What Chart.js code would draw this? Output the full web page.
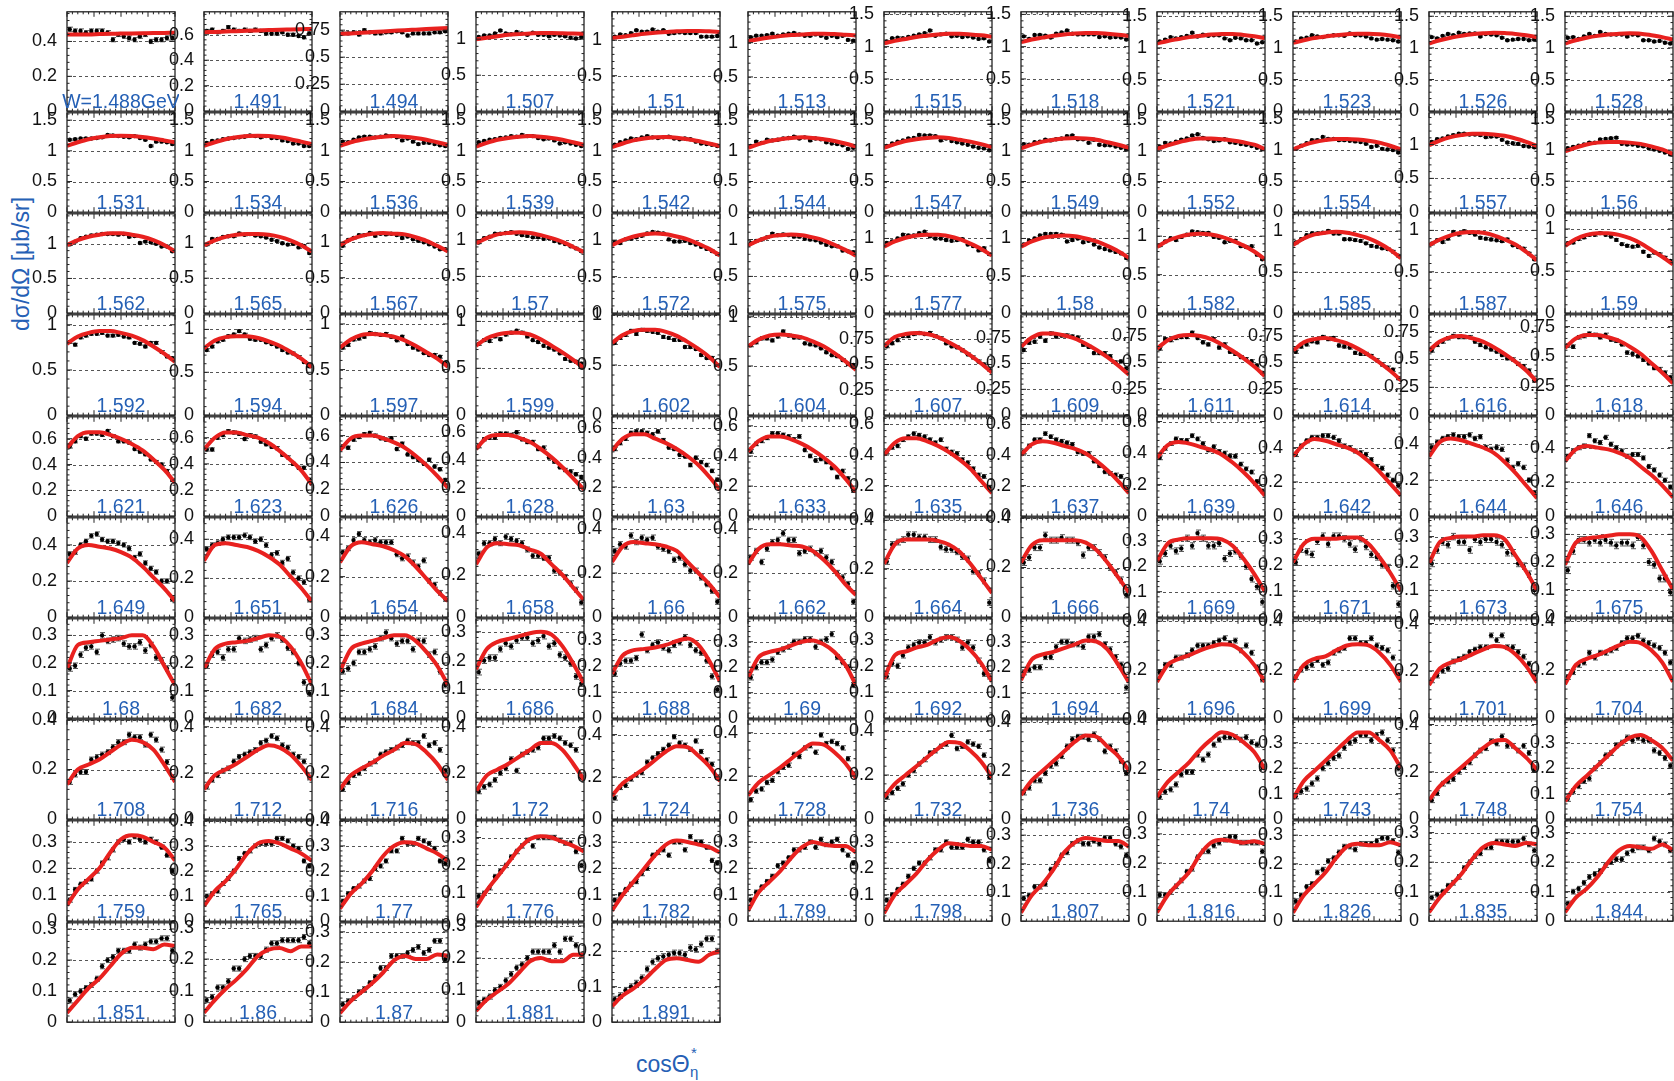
<!DOCTYPE html>
<html>
<head>
<meta charset="utf-8">
<script src="https://cdn.jsdelivr.net/npm/chart.js@4.4.1/dist/chart.umd.min.js"></script>
<style>
  body { margin: 0; background: #fff; width: 1674px; height: 1081px; overflow: hidden; position: relative;
         font-family: 'Liberation Sans', Arial, sans-serif; }
  canvas { position: absolute; }
  .ytitle { position: absolute; left: 21px; top: 264px; transform: translate(-50%, -50%) rotate(-90deg);
            color: #2560b5; font-size: 23px; white-space: nowrap; }
  .xtitle { position: absolute; left: 636px; top: 1051px; color: #2560b5; font-size: 23px; white-space: nowrap; }
  .xtitle .sup { position: absolute; left: 55px; top: -7px; font-size: 15px; }
  .xtitle .sub { position: absolute; left: 54px; top: 12px; font-size: 15px; }
</style>
</head>
<body>
<div class="ytitle">dσ/dΩ [μb/sr]</div>
<div class="xtitle">cosΘ<span class="sup">*</span><span class="sub">η</span></div>
<script>
// bin centres of the measured points and the cos values of the model curve
const cosBins = [-0.95, -0.85, -0.75, -0.65, -0.55, -0.45, -0.35, -0.25, -0.15, -0.05,
                 0.05, 0.15, 0.25, 0.35, 0.45, 0.55, 0.65, 0.75, 0.85, 0.95];
const curveCos = [-1, -0.8, -0.6, -0.4, -0.2, 0, 0.2, 0.4, 0.6, 0.8, 1];

const wLabels = [
  'W=1.488GeV', '1.491', '1.494', '1.507', '1.51', '1.513', '1.515', '1.518', '1.521', '1.523', '1.526', '1.528',
  '1.531', '1.534', '1.536', '1.539', '1.542', '1.544', '1.547', '1.549', '1.552', '1.554', '1.557', '1.56',
  '1.562', '1.565', '1.567', '1.57', '1.572', '1.575', '1.577', '1.58', '1.582', '1.585', '1.587', '1.59',
  '1.592', '1.594', '1.597', '1.599', '1.602', '1.604', '1.607', '1.609', '1.611', '1.614', '1.616', '1.618',
  '1.621', '1.623', '1.626', '1.628', '1.63', '1.633', '1.635', '1.637', '1.639', '1.642', '1.644', '1.646',
  '1.649', '1.651', '1.654', '1.658', '1.66', '1.662', '1.664', '1.666', '1.669', '1.671', '1.673', '1.675',
  '1.68', '1.682', '1.684', '1.686', '1.688', '1.69', '1.692', '1.694', '1.696', '1.699', '1.701', '1.704',
  '1.708', '1.712', '1.716', '1.72', '1.724', '1.728', '1.732', '1.736', '1.74', '1.743', '1.748', '1.754',
  '1.759', '1.765', '1.77', '1.776', '1.782', '1.789', '1.798', '1.807', '1.816', '1.826', '1.835', '1.844',
  '1.851', '1.86', '1.87', '1.881', '1.891'
];

const yMax = [
  0.57, 0.78, 0.92, 1.38, 1.40, 1.45, 1.54, 1.54, 1.57, 1.57, 1.57, 1.57,
  1.62, 1.62, 1.62, 1.62, 1.62, 1.62, 1.62, 1.62, 1.62, 1.60, 1.47, 1.60,
  1.43, 1.42, 1.40, 1.35, 1.36, 1.35, 1.33, 1.33, 1.29, 1.21, 1.20, 1.18,
  1.11, 1.17, 1.10, 1.07, 1.00, 1.02, 0.99, 0.97, 0.95, 0.95, 0.90, 0.85,
  0.77, 0.76, 0.74, 0.71, 0.68, 0.66, 0.65, 0.65, 0.63, 0.58, 0.55, 0.58,
  0.55, 0.51, 0.49, 0.47, 0.45, 0.45, 0.41, 0.40, 0.39, 0.38, 0.37, 0.36,
  0.36, 0.36, 0.36, 0.345, 0.38, 0.39, 0.38, 0.39, 0.41, 0.41, 0.42, 0.41,
  0.40, 0.43, 0.43, 0.43, 0.47, 0.46, 0.45, 0.41, 0.40, 0.39, 0.42, 0.39,
  0.38, 0.40, 0.40, 0.36, 0.38, 0.38, 0.38, 0.35, 0.345, 0.35, 0.34, 0.34,
  0.32, 0.315, 0.33, 0.31, 0.28
];

const yStep = [
  0.2, 0.2, 0.25, 0.5, 0.5, 0.5, 0.5, 0.5, 0.5, 0.5, 0.5, 0.5,
  0.5, 0.5, 0.5, 0.5, 0.5, 0.5, 0.5, 0.5, 0.5, 0.5, 0.5, 0.5,
  0.5, 0.5, 0.5, 0.5, 0.5, 0.5, 0.5, 0.5, 0.5, 0.5, 0.5, 0.5,
  0.5, 0.5, 0.5, 0.5, 0.5, 0.5, 0.25, 0.25, 0.25, 0.25, 0.25, 0.25,
  0.2, 0.2, 0.2, 0.2, 0.2, 0.2, 0.2, 0.2, 0.2, 0.2, 0.2, 0.2,
  0.2, 0.2, 0.2, 0.2, 0.2, 0.2, 0.2, 0.2, 0.1, 0.1, 0.1, 0.1,
  0.1, 0.1, 0.1, 0.1, 0.1, 0.1, 0.1, 0.1, 0.2, 0.2, 0.2, 0.2,
  0.2, 0.2, 0.2, 0.2, 0.2, 0.2, 0.2, 0.2, 0.2, 0.1, 0.2, 0.1,
  0.1, 0.1, 0.1, 0.1, 0.1, 0.1, 0.1, 0.1, 0.1, 0.1, 0.1, 0.1,
  0.1, 0.1, 0.1, 0.1, 0.1
];

// typical statistical error per row of panels
const rowErr = [0.012, 0.015, 0.015, 0.015, 0.012, 0.012, 0.01, 0.01, 0.008, 0.008];

const points = [
  [0.47,0.46,0.46,0.45,0.46,0.46,0.46,0.45,0.41,0.44,0.43,0.42,0.41,0.43,0.44,0.40,0.41,0.41,0.42,0.42],
  [0.63,0.64,0.62,0.63,0.66,0.64,0.63,0.64,0.63,0.64,0.63,0.61,0.61,0.61,0.62,0.60,0.60,0.59,0.58,0.61],
  [0.72,0.72,0.73,0.71,0.75,0.73,0.72,0.72,0.73,0.73,0.74,0.73,0.70,0.72,0.72,0.72,0.72,0.73,0.73,0.74],
  [1.03,1.05,1.05,1.08,1.12,1.08,1.07,1.10,1.08,1.06,1.09,1.06,1.06,1.04,1.06,1.05,1.04,1.02,1.01,1.03],
  [1.05,1.08,1.07,1.10,1.14,1.12,1.12,1.15,1.12,1.14,1.09,1.10,1.11,1.10,1.10,1.10,1.05,1.05,1.05,1.06],
  [1.08,1.10,1.10,1.11,1.13,1.10,1.12,1.13,1.14,1.12,1.10,1.10,1.12,1.10,1.07,1.10,1.08,1.10,1.04,1.03],
  [1.08,1.13,1.14,1.13,1.15,1.17,1.19,1.21,1.25,1.17,1.19,1.20,1.16,1.17,1.15,1.16,1.14,1.12,1.13,1.08],
  [1.16,1.12,1.18,1.18,1.17,1.14,1.20,1.22,1.25,1.20,1.19,1.19,1.19,1.19,1.15,1.16,1.14,1.15,1.14,1.11],
  [1.10,1.13,1.17,1.15,1.17,1.19,1.24,1.18,1.21,1.19,1.20,1.20,1.15,1.12,1.16,1.15,1.12,1.12,1.07,1.09],
  [1.10,1.15,1.16,1.20,1.18,1.17,1.19,1.20,1.20,1.19,1.23,1.20,1.20,1.18,1.15,1.13,1.14,1.13,1.12,1.10],
  [1.17,1.15,1.19,1.22,1.20,1.24,1.22,1.23,1.23,1.18,1.22,1.21,1.20,1.16,1.12,1.13,1.14,1.14,1.12,1.13],
  [1.16,1.17,1.14,1.18,1.22,1.19,1.25,1.22,1.21,1.21,1.21,1.18,1.21,1.20,1.12,1.12,1.10,1.11,1.08,1.07],

  [1.18,1.19,1.20,1.20,1.20,1.21,1.22,1.26,1.25,1.24,1.23,1.22,1.24,1.21,1.18,1.08,1.15,1.15,1.14,1.11],
  [1.13,1.16,1.17,1.19,1.20,1.21,1.22,1.23,1.25,1.24,1.22,1.24,1.21,1.21,1.17,1.16,1.12,1.12,1.08,1.08],
  [1.15,1.14,1.18,1.22,1.23,1.23,1.22,1.23,1.25,1.24,1.22,1.17,1.20,1.15,1.11,1.13,1.13,1.11,1.09,1.08],
  [1.14,1.16,1.18,1.19,1.21,1.22,1.24,1.23,1.26,1.24,1.24,1.21,1.19,1.20,1.17,1.12,1.14,1.12,1.10,1.08],
  [1.10,1.14,1.17,1.20,1.19,1.22,1.24,1.22,1.21,1.22,1.23,1.20,1.19,1.20,1.19,1.15,1.12,1.11,1.10,1.08],
  [1.08,1.15,1.13,1.18,1.17,1.18,1.20,1.21,1.23,1.20,1.22,1.17,1.20,1.19,1.14,1.12,1.11,1.09,1.03,1.05],
  [1.08,1.12,1.15,1.17,1.20,1.21,1.26,1.25,1.25,1.24,1.17,1.20,1.16,1.14,1.12,1.10,1.07,1.05,1.04,1.01],
  [1.11,1.10,1.14,1.15,1.18,1.17,1.19,1.20,1.24,1.25,1.19,1.19,1.13,1.18,1.10,1.09,1.09,1.07,1.05,1.02],
  [1.07,1.13,1.12,1.15,1.18,1.20,1.25,1.27,1.21,1.19,1.16,1.17,1.19,1.14,1.13,1.11,1.10,1.08,1.05,1.03],
  [1.02,1.07,1.11,1.16,1.16,1.21,1.18,1.18,1.16,1.16,1.15,1.14,1.13,1.10,1.05,1.07,1.02,1.01,1.00,0.96],
  [1.04,1.08,1.09,1.12,1.14,1.16,1.16,1.15,1.15,1.14,1.11,1.12,1.12,1.07,1.03,1.02,1.01,0.98,0.97,0.96],
  [1.03,1.05,1.07,1.09,1.12,1.12,1.17,1.18,1.19,1.20,1.10,1.09,1.09,1.07,1.06,1.03,1.01,0.99,0.96,0.93],

  [0.99,1.03,1.08,1.10,1.12,1.13,1.14,1.14,1.14,1.13,1.14,1.10,1.11,1.01,1.03,1.02,1.00,0.96,0.96,0.89],
  [0.98,1.06,1.06,1.09,1.10,1.10,1.14,1.12,1.13,1.11,1.10,1.08,1.05,1.03,1.00,0.98,0.99,0.94,0.96,0.86],
  [0.95,1.03,1.06,1.10,1.10,1.13,1.09,1.12,1.11,1.12,1.10,1.06,1.08,1.04,1.02,1.00,0.97,0.94,0.90,0.90],
  [0.96,1.02,1.04,1.08,1.08,1.09,1.10,1.08,1.06,1.05,1.03,1.03,1.01,1.02,0.98,0.96,0.94,0.91,0.88,0.84],
  [0.97,0.96,1.01,1.02,1.04,1.06,1.09,1.11,1.10,1.09,1.01,0.98,0.98,0.99,0.96,0.94,0.91,0.88,0.85,0.81],
  [0.95,0.98,1.00,1.03,1.08,1.06,1.07,1.06,1.04,1.04,1.01,1.00,0.99,0.96,0.93,0.91,0.91,0.85,0.84,0.83],
  [0.94,0.96,1.00,1.05,1.04,1.04,1.07,1.09,1.03,1.00,1.00,0.98,0.97,0.98,0.99,0.92,0.90,0.84,0.87,0.79],
  [0.92,0.97,1.00,1.04,1.06,1.06,1.06,1.05,0.96,0.98,1.00,0.95,0.97,0.92,0.88,0.86,0.84,0.82,0.80,0.74],
  [0.88,0.93,0.97,0.95,0.99,1.02,1.06,1.05,1.04,1.04,0.99,0.98,0.92,0.94,0.94,0.87,0.86,0.87,0.76,0.70],
  [0.86,0.90,0.95,0.97,0.97,0.98,1.00,0.97,0.97,0.90,0.90,0.89,0.88,0.85,0.82,0.81,0.79,0.78,0.75,0.70],
  [0.84,0.88,0.86,0.90,0.98,0.95,0.99,0.97,0.95,0.91,0.90,0.89,0.88,0.87,0.89,0.82,0.80,0.78,0.72,0.65],
  [0.83,0.84,0.88,0.90,0.93,0.93,0.95,0.93,0.91,0.87,0.82,0.80,0.79,0.80,0.73,0.68,0.72,0.70,0.66,0.62],

  [0.81,0.78,0.86,0.88,0.90,0.90,0.91,0.88,0.88,0.89,0.87,0.86,0.80,0.79,0.76,0.80,0.80,0.70,0.65,0.63],
  [0.76,0.80,0.86,0.88,0.92,0.94,0.98,0.94,0.89,0.88,0.88,0.85,0.83,0.80,0.76,0.73,0.72,0.68,0.62,0.57],
  [0.74,0.77,0.83,0.84,0.86,0.90,0.89,0.88,0.89,0.86,0.82,0.86,0.78,0.74,0.72,0.68,0.66,0.66,0.64,0.57],
  [0.76,0.80,0.79,0.84,0.81,0.86,0.88,0.90,0.88,0.84,0.80,0.78,0.74,0.72,0.70,0.66,0.60,0.58,0.57,0.55],
  [0.72,0.77,0.80,0.84,0.81,0.85,0.84,0.83,0.82,0.78,0.77,0.75,0.75,0.68,0.68,0.66,0.60,0.57,0.57,0.50],
  [0.71,0.74,0.78,0.78,0.76,0.80,0.85,0.81,0.79,0.79,0.73,0.72,0.71,0.68,0.64,0.61,0.60,0.56,0.52,0.51],
  [0.68,0.71,0.74,0.78,0.78,0.80,0.81,0.80,0.81,0.78,0.76,0.71,0.68,0.67,0.64,0.60,0.57,0.53,0.50,0.45],
  [0.63,0.70,0.71,0.76,0.72,0.79,0.76,0.77,0.77,0.76,0.75,0.68,0.66,0.60,0.60,0.60,0.57,0.51,0.52,0.45],
  [0.63,0.72,0.71,0.73,0.74,0.74,0.78,0.73,0.69,0.67,0.72,0.64,0.67,0.60,0.58,0.55,0.53,0.51,0.47,0.40],
  [0.60,0.65,0.67,0.70,0.69,0.74,0.72,0.73,0.66,0.65,0.64,0.59,0.58,0.58,0.56,0.52,0.48,0.45,0.43,0.35],
  [0.58,0.63,0.66,0.69,0.71,0.70,0.70,0.70,0.66,0.63,0.61,0.59,0.57,0.54,0.51,0.50,0.46,0.44,0.40,0.31],
  [0.59,0.58,0.66,0.67,0.69,0.68,0.66,0.68,0.64,0.63,0.60,0.53,0.52,0.50,0.47,0.44,0.40,0.39,0.36,0.32],

  [0.54,0.58,0.62,0.60,0.64,0.64,0.63,0.66,0.62,0.58,0.58,0.57,0.52,0.50,0.48,0.44,0.42,0.40,0.35,0.28],
  [0.51,0.51,0.60,0.62,0.65,0.64,0.63,0.59,0.62,0.61,0.57,0.55,0.53,0.52,0.47,0.45,0.40,0.37,0.37,0.28],
  [0.52,0.51,0.57,0.59,0.61,0.62,0.60,0.58,0.57,0.58,0.50,0.54,0.46,0.44,0.42,0.39,0.42,0.37,0.35,0.27],
  [0.50,0.55,0.56,0.56,0.59,0.59,0.58,0.60,0.55,0.53,0.53,0.48,0.49,0.42,0.39,0.35,0.33,0.32,0.30,0.28],
  [0.46,0.50,0.53,0.57,0.58,0.58,0.57,0.56,0.58,0.52,0.47,0.46,0.42,0.41,0.35,0.40,0.37,0.35,0.31,0.25],
  [0.43,0.48,0.50,0.52,0.55,0.55,0.54,0.53,0.51,0.53,0.44,0.40,0.37,0.38,0.36,0.32,0.26,0.30,0.25,0.17],
  [0.42,0.45,0.46,0.50,0.52,0.54,0.53,0.52,0.50,0.48,0.50,0.44,0.42,0.41,0.37,0.35,0.31,0.27,0.26,0.19],
  [0.42,0.46,0.50,0.50,0.54,0.52,0.50,0.49,0.48,0.47,0.42,0.41,0.41,0.36,0.33,0.29,0.28,0.27,0.26,0.18],
  [0.37,0.43,0.46,0.49,0.48,0.48,0.51,0.49,0.46,0.42,0.44,0.41,0.40,0.38,0.38,0.33,0.30,0.28,0.22,0.16],
  [0.36,0.41,0.44,0.46,0.46,0.47,0.47,0.46,0.44,0.41,0.40,0.38,0.37,0.36,0.33,0.29,0.28,0.24,0.21,0.18],
  [0.38,0.41,0.43,0.44,0.45,0.44,0.44,0.45,0.43,0.44,0.38,0.37,0.38,0.37,0.31,0.27,0.29,0.27,0.20,0.13],
  [0.35,0.38,0.40,0.41,0.47,0.44,0.43,0.46,0.42,0.40,0.38,0.35,0.36,0.36,0.34,0.29,0.27,0.24,0.21,0.17],

  [0.35,0.36,0.40,0.42,0.45,0.46,0.43,0.42,0.42,0.41,0.40,0.38,0.33,0.35,0.30,0.27,0.25,0.20,0.20,0.10],
  [0.35,0.37,0.38,0.40,0.41,0.41,0.41,0.42,0.41,0.39,0.40,0.37,0.32,0.33,0.28,0.30,0.23,0.20,0.18,0.09],
  [0.32,0.34,0.38,0.41,0.38,0.37,0.38,0.37,0.37,0.37,0.31,0.29,0.30,0.27,0.25,0.28,0.18,0.16,0.12,0.09],
  [0.30,0.35,0.35,0.37,0.35,0.38,0.37,0.36,0.35,0.32,0.29,0.29,0.28,0.28,0.22,0.21,0.19,0.16,0.13,0.07],
  [0.30,0.33,0.32,0.37,0.34,0.36,0.35,0.36,0.32,0.31,0.30,0.26,0.27,0.24,0.21,0.21,0.18,0.15,0.12,0.07],
  [0.27,0.30,0.25,0.31,0.34,0.35,0.38,0.35,0.35,0.29,0.30,0.31,0.29,0.30,0.27,0.25,0.20,0.18,0.15,0.07],
  [0.23,0.30,0.31,0.32,0.34,0.34,0.33,0.33,0.32,0.32,0.29,0.28,0.28,0.27,0.25,0.24,0.19,0.18,0.15,0.06],
  [0.22,0.24,0.28,0.28,0.33,0.31,0.31,0.32,0.31,0.31,0.30,0.25,0.28,0.28,0.26,0.24,0.20,0.18,0.15,0.09],
  [0.22,0.25,0.28,0.26,0.27,0.31,0.28,0.33,0.31,0.28,0.28,0.29,0.23,0.25,0.26,0.24,0.20,0.15,0.12,0.06],
  [0.21,0.26,0.25,0.24,0.29,0.31,0.28,0.31,0.31,0.30,0.28,0.26,0.30,0.27,0.24,0.23,0.20,0.19,0.12,0.05],
  [0.20,0.25,0.28,0.27,0.30,0.28,0.28,0.25,0.29,0.28,0.29,0.29,0.28,0.27,0.24,0.24,0.20,0.19,0.16,0.10],
  [0.17,0.24,0.28,0.28,0.27,0.28,0.27,0.28,0.27,0.26,0.27,0.27,0.26,0.29,0.26,0.20,0.19,0.14,0.14,0.09],

  [0.18,0.19,0.23,0.255,0.26,0.24,0.30,0.28,0.285,0.29,0.27,0.26,0.26,0.275,0.245,0.265,0.22,0.21,0.18,0.075],
  [0.19,0.23,0.24,0.22,0.25,0.25,0.29,0.28,0.285,0.29,0.25,0.265,0.29,0.30,0.285,0.255,0.24,0.20,0.13,0.09],
  [0.17,0.18,0.20,0.24,0.24,0.25,0.26,0.29,0.31,0.29,0.27,0.28,0.28,0.25,0.28,0.28,0.23,0.24,0.17,0.12],
  [0.16,0.20,0.21,0.21,0.24,0.26,0.25,0.27,0.28,0.28,0.26,0.27,0.285,0.25,0.26,0.22,0.21,0.19,0.145,0.12],
  [0.17,0.21,0.22,0.22,0.23,0.32,0.26,0.28,0.29,0.27,0.26,0.28,0.29,0.31,0.28,0.26,0.25,0.22,0.16,0.11],
  [0.16,0.20,0.22,0.22,0.23,0.26,0.27,0.28,0.30,0.30,0.31,0.31,0.28,0.30,0.31,0.33,0.24,0.22,0.20,0.13],
  [0.16,0.21,0.20,0.24,0.27,0.28,0.29,0.29,0.31,0.29,0.30,0.31,0.31,0.30,0.27,0.29,0.27,0.22,0.17,0.16],
  [0.18,0.19,0.20,0.20,0.24,0.24,0.28,0.30,0.30,0.29,0.29,0.28,0.32,0.32,0.33,0.29,0.27,0.24,0.21,0.12],
  [0.19,0.22,0.22,0.25,0.25,0.26,0.28,0.30,0.30,0.30,0.31,0.32,0.33,0.31,0.32,0.28,0.30,0.27,0.21,0.16],
  [0.17,0.20,0.21,0.22,0.24,0.22,0.23,0.27,0.28,0.29,0.33,0.33,0.31,0.31,0.33,0.30,0.29,0.28,0.25,0.18],
  [0.16,0.18,0.20,0.21,0.24,0.25,0.26,0.28,0.29,0.30,0.30,0.35,0.33,0.35,0.30,0.30,0.28,0.26,0.23,0.18],
  [0.17,0.19,0.22,0.23,0.27,0.25,0.27,0.27,0.28,0.29,0.31,0.33,0.33,0.34,0.32,0.31,0.30,0.29,0.27,0.23],

  [0.15,0.18,0.19,0.19,0.24,0.25,0.26,0.27,0.29,0.31,0.31,0.34,0.33,0.33,0.30,0.34,0.32,0.28,0.23,0.17],
  [0.14,0.17,0.19,0.21,0.22,0.25,0.27,0.28,0.29,0.30,0.33,0.34,0.36,0.35,0.32,0.31,0.28,0.27,0.25,0.18],
  [0.13,0.16,0.19,0.20,0.22,0.24,0.25,0.28,0.29,0.30,0.31,0.32,0.34,0.33,0.33,0.36,0.32,0.33,0.30,0.21],
  [0.12,0.14,0.15,0.17,0.20,0.22,0.26,0.21,0.28,0.29,0.30,0.31,0.35,0.35,0.36,0.35,0.33,0.32,0.30,0.18],
  [0.10,0.15,0.16,0.19,0.21,0.22,0.27,0.29,0.31,0.33,0.35,0.39,0.36,0.35,0.33,0.37,0.32,0.28,0.26,0.20],
  [0.09,0.13,0.14,0.17,0.18,0.22,0.24,0.25,0.30,0.29,0.33,0.34,0.31,0.39,0.35,0.36,0.35,0.33,0.28,0.21],
  [0.10,0.12,0.14,0.16,0.20,0.22,0.25,0.27,0.30,0.31,0.33,0.34,0.38,0.32,0.33,0.35,0.34,0.33,0.29,0.19],
  [0.11,0.13,0.16,0.16,0.19,0.22,0.23,0.26,0.30,0.33,0.34,0.34,0.33,0.35,0.33,0.28,0.30,0.28,0.24,0.19],
  [0.09,0.11,0.12,0.14,0.18,0.19,0.19,0.26,0.24,0.26,0.30,0.32,0.33,0.33,0.33,0.32,0.33,0.31,0.30,0.21],
  [0.09,0.11,0.12,0.14,0.16,0.20,0.22,0.24,0.25,0.28,0.30,0.31,0.33,0.33,0.31,0.33,0.34,0.31,0.27,0.20],
  [0.08,0.11,0.15,0.16,0.17,0.20,0.22,0.24,0.27,0.29,0.30,0.33,0.32,0.35,0.31,0.31,0.29,0.31,0.28,0.21],
  [0.08,0.11,0.13,0.15,0.16,0.20,0.22,0.25,0.26,0.29,0.30,0.32,0.31,0.32,0.31,0.31,0.27,0.26,0.24,0.21],

  [0.08,0.12,0.14,0.15,0.16,0.19,0.22,0.24,0.27,0.30,0.31,0.30,0.32,0.31,0.30,0.31,0.30,0.28,0.25,0.19],
  [0.10,0.11,0.12,0.15,0.17,0.20,0.25,0.27,0.28,0.30,0.31,0.31,0.31,0.33,0.33,0.32,0.30,0.29,0.24,0.22],
  [0.08,0.11,0.13,0.14,0.16,0.17,0.21,0.22,0.24,0.28,0.28,0.33,0.31,0.31,0.33,0.32,0.31,0.29,0.24,0.23],
  [0.09,0.10,0.12,0.16,0.18,0.20,0.23,0.25,0.27,0.29,0.27,0.30,0.30,0.30,0.30,0.29,0.28,0.28,0.25,0.20],
  [0.08,0.10,0.12,0.14,0.15,0.18,0.20,0.25,0.26,0.27,0.25,0.30,0.30,0.27,0.32,0.30,0.30,0.28,0.23,0.22],
  [0.08,0.11,0.13,0.15,0.17,0.21,0.22,0.24,0.27,0.27,0.28,0.30,0.28,0.31,0.29,0.30,0.31,0.27,0.25,0.22],
  [0.08,0.10,0.12,0.14,0.17,0.20,0.22,0.22,0.24,0.27,0.27,0.30,0.28,0.28,0.28,0.31,0.30,0.30,0.27,0.23],
  [0.08,0.09,0.12,0.12,0.13,0.18,0.20,0.23,0.24,0.27,0.28,0.27,0.27,0.28,0.27,0.29,0.29,0.27,0.26,0.23],
  [0.09,0.09,0.10,0.12,0.14,0.17,0.18,0.22,0.24,0.24,0.26,0.27,0.28,0.29,0.29,0.27,0.27,0.27,0.27,0.24],
  [0.07,0.09,0.12,0.13,0.17,0.18,0.21,0.22,0.24,0.26,0.26,0.25,0.27,0.27,0.27,0.28,0.29,0.29,0.28,0.24],
  [0.08,0.09,0.10,0.12,0.13,0.15,0.18,0.20,0.22,0.23,0.25,0.25,0.27,0.27,0.27,0.27,0.27,0.28,0.26,0.24],
  [0.06,0.10,0.11,0.13,0.15,0.16,0.17,0.19,0.20,0.21,0.21,0.23,0.24,0.25,0.25,0.24,0.28,0.27,0.26,0.24],

  [0.07,0.09,0.10,0.11,0.12,0.14,0.18,0.20,0.21,0.23,0.23,0.23,0.25,0.24,0.25,0.26,0.26,0.27,0.27,0.23],
  [0.07,0.08,0.11,0.11,0.13,0.17,0.17,0.20,0.21,0.21,0.21,0.23,0.25,0.25,0.26,0.26,0.26,0.26,0.27,0.25],
  [0.06,0.07,0.08,0.10,0.11,0.13,0.15,0.18,0.18,0.22,0.22,0.22,0.23,0.24,0.25,0.23,0.24,0.27,0.27,0.21],
  [0.06,0.07,0.08,0.10,0.11,0.13,0.15,0.17,0.18,0.20,0.22,0.22,0.22,0.22,0.24,0.22,0.26,0.26,0.24,0.21],
  [0.065,0.075,0.09,0.10,0.11,0.125,0.15,0.17,0.18,0.185,0.19,0.195,0.195,0.19,0.21,0.205,0.22,0.235,0.235,0.20]
];

const curves = [
  [0.44,0.44,0.44,0.442,0.444,0.445,0.446,0.447,0.448,0.449,0.45],
  [0.62,0.622,0.625,0.628,0.631,0.634,0.637,0.64,0.642,0.644,0.646],
  [0.715,0.72,0.726,0.732,0.738,0.744,0.75,0.755,0.76,0.765,0.77],
  [1.0,1.02,1.04,1.06,1.07,1.08,1.085,1.085,1.082,1.078,1.075],
  [1.03,1.05,1.07,1.09,1.105,1.115,1.125,1.13,1.13,1.125,1.115],
  [1.02,1.05,1.075,1.095,1.11,1.12,1.13,1.13,1.125,1.115,1.105],
  [1.05,1.09,1.12,1.15,1.17,1.19,1.2,1.2,1.19,1.175,1.155],
  [1.07,1.11,1.14,1.17,1.19,1.205,1.21,1.21,1.2,1.185,1.165],
  [1.07,1.11,1.14,1.17,1.19,1.21,1.22,1.22,1.205,1.185,1.155],
  [1.08,1.12,1.155,1.18,1.2,1.215,1.225,1.225,1.215,1.195,1.165],
  [1.07,1.12,1.16,1.19,1.215,1.23,1.24,1.235,1.22,1.2,1.17],
  [1.07,1.12,1.16,1.19,1.21,1.225,1.23,1.225,1.2,1.17,1.13],

  [1.08,1.14,1.19,1.22,1.24,1.245,1.24,1.225,1.2,1.17,1.14],
  [1.08,1.14,1.19,1.22,1.24,1.245,1.24,1.22,1.19,1.15,1.11],
  [1.08,1.14,1.18,1.21,1.23,1.24,1.23,1.21,1.18,1.14,1.1],
  [1.07,1.13,1.18,1.21,1.23,1.24,1.23,1.21,1.18,1.14,1.1],
  [1.06,1.12,1.17,1.2,1.22,1.225,1.215,1.19,1.16,1.12,1.08],
  [1.05,1.11,1.16,1.19,1.21,1.22,1.21,1.19,1.16,1.12,1.07],
  [1.05,1.11,1.16,1.19,1.21,1.22,1.21,1.18,1.15,1.11,1.06],
  [1.04,1.1,1.15,1.18,1.2,1.21,1.2,1.18,1.14,1.1,1.05],
  [1.03,1.09,1.14,1.18,1.2,1.2,1.19,1.17,1.14,1.1,1.03],
  [1.01,1.08,1.13,1.16,1.18,1.18,1.17,1.15,1.12,1.07,1.01],
  [0.99,1.06,1.11,1.14,1.16,1.16,1.15,1.13,1.09,1.04,0.98],
  [0.98,1.04,1.09,1.12,1.13,1.13,1.12,1.1,1.06,1.01,0.94],

  [0.98,1.05,1.1,1.13,1.15,1.15,1.13,1.1,1.05,0.98,0.89],
  [0.97,1.04,1.09,1.12,1.13,1.13,1.12,1.09,1.04,0.97,0.88],
  [0.96,1.04,1.09,1.12,1.13,1.12,1.11,1.07,1.02,0.95,0.87],
  [0.95,1.02,1.07,1.09,1.1,1.09,1.06,1.02,0.97,0.9,0.83],
  [0.93,1.0,1.05,1.08,1.09,1.08,1.05,1.01,0.95,0.88,0.79],
  [0.92,0.99,1.04,1.06,1.07,1.06,1.03,0.99,0.93,0.86,0.78],
  [0.89,0.96,1.01,1.04,1.05,1.05,1.03,0.99,0.93,0.86,0.77],
  [0.89,0.96,1.01,1.03,1.04,1.03,1.0,0.96,0.9,0.83,0.74],
  [0.86,0.94,0.99,1.02,1.03,1.02,0.99,0.94,0.88,0.8,0.7],
  [0.83,0.91,0.96,0.98,0.99,0.98,0.95,0.91,0.85,0.77,0.67],
  [0.82,0.89,0.94,0.97,0.98,0.97,0.94,0.89,0.83,0.74,0.64],
  [0.8,0.88,0.93,0.95,0.95,0.93,0.89,0.83,0.75,0.67,0.58],

  [0.79,0.87,0.91,0.93,0.93,0.91,0.88,0.83,0.76,0.68,0.59],
  [0.78,0.87,0.91,0.92,0.92,0.9,0.86,0.81,0.74,0.66,0.56],
  [0.74,0.83,0.88,0.89,0.88,0.86,0.82,0.76,0.69,0.62,0.53],
  [0.74,0.82,0.86,0.88,0.88,0.86,0.81,0.74,0.67,0.59,0.5],
  [0.72,0.8,0.84,0.85,0.85,0.83,0.79,0.73,0.66,0.58,0.48],
  [0.7,0.77,0.81,0.82,0.81,0.79,0.75,0.7,0.63,0.55,0.46],
  [0.68,0.77,0.8,0.81,0.8,0.77,0.72,0.66,0.59,0.51,0.42],
  [0.66,0.75,0.79,0.79,0.77,0.74,0.69,0.63,0.56,0.48,0.39],
  [0.63,0.71,0.75,0.76,0.75,0.72,0.67,0.61,0.54,0.46,0.37],
  [0.61,0.69,0.72,0.73,0.71,0.68,0.63,0.57,0.5,0.42,0.33],
  [0.58,0.66,0.7,0.71,0.69,0.66,0.61,0.55,0.48,0.4,0.3],
  [0.57,0.65,0.68,0.68,0.66,0.63,0.58,0.52,0.44,0.36,0.27],

  [0.53,0.62,0.65,0.65,0.63,0.6,0.56,0.51,0.44,0.36,0.26],
  [0.51,0.6,0.64,0.64,0.62,0.6,0.56,0.5,0.43,0.35,0.24],
  [0.49,0.58,0.6,0.6,0.58,0.55,0.51,0.45,0.38,0.3,0.21],
  [0.48,0.56,0.58,0.58,0.56,0.53,0.48,0.42,0.35,0.27,0.19],
  [0.45,0.53,0.56,0.56,0.53,0.5,0.46,0.41,0.35,0.27,0.18],
  [0.43,0.5,0.53,0.53,0.51,0.48,0.44,0.39,0.33,0.25,0.16],
  [0.4,0.48,0.51,0.51,0.49,0.46,0.42,0.37,0.31,0.23,0.15],
  [0.4,0.47,0.49,0.48,0.46,0.44,0.41,0.36,0.3,0.23,0.15],
  [0.37,0.45,0.47,0.46,0.44,0.42,0.39,0.34,0.28,0.21,0.13],
  [0.35,0.42,0.45,0.44,0.42,0.4,0.37,0.32,0.26,0.19,0.12],
  [0.33,0.41,0.43,0.42,0.4,0.38,0.35,0.3,0.24,0.17,0.1],
  [0.32,0.39,0.41,0.4,0.39,0.37,0.34,0.29,0.24,0.18,0.11],

  [0.3,0.38,0.4,0.39,0.38,0.36,0.33,0.28,0.22,0.16,0.09],
  [0.29,0.37,0.38,0.37,0.36,0.34,0.31,0.27,0.21,0.15,0.08],
  [0.27,0.35,0.37,0.36,0.35,0.33,0.3,0.25,0.19,0.13,0.08],
  [0.25,0.33,0.35,0.345,0.34,0.32,0.3,0.25,0.2,0.14,0.08],
  [0.25,0.32,0.34,0.335,0.33,0.32,0.3,0.25,0.2,0.15,0.09],
  [0.24,0.31,0.33,0.33,0.325,0.32,0.3,0.26,0.21,0.15,0.1],
  [0.22,0.3,0.32,0.32,0.32,0.315,0.3,0.27,0.22,0.16,0.1],
  [0.22,0.29,0.31,0.31,0.31,0.31,0.3,0.27,0.22,0.16,0.1],
  [0.22,0.29,0.305,0.31,0.31,0.31,0.305,0.28,0.23,0.17,0.1],
  [0.21,0.28,0.3,0.3,0.3,0.305,0.305,0.28,0.23,0.17,0.1],
  [0.2,0.28,0.295,0.3,0.3,0.305,0.305,0.29,0.23,0.17,0.1],
  [0.19,0.27,0.285,0.29,0.295,0.3,0.3,0.29,0.24,0.17,0.1],

  [0.18,0.265,0.275,0.28,0.285,0.29,0.3,0.3,0.26,0.19,0.12],
  [0.18,0.25,0.27,0.275,0.28,0.29,0.3,0.295,0.26,0.2,0.12],
  [0.17,0.25,0.27,0.28,0.29,0.3,0.3,0.28,0.24,0.19,0.12],
  [0.17,0.24,0.265,0.275,0.285,0.295,0.3,0.29,0.25,0.19,0.12],
  [0.17,0.24,0.26,0.265,0.27,0.28,0.295,0.305,0.28,0.22,0.14],
  [0.16,0.24,0.26,0.27,0.285,0.3,0.305,0.29,0.26,0.21,0.13],
  [0.15,0.24,0.255,0.27,0.28,0.3,0.31,0.295,0.26,0.21,0.14],
  [0.15,0.23,0.25,0.26,0.275,0.29,0.305,0.3,0.27,0.21,0.14],
  [0.15,0.22,0.245,0.26,0.28,0.295,0.305,0.3,0.27,0.22,0.15],
  [0.15,0.22,0.245,0.255,0.28,0.3,0.305,0.3,0.27,0.22,0.15],
  [0.14,0.21,0.235,0.25,0.27,0.29,0.305,0.3,0.27,0.22,0.15],
  [0.14,0.22,0.245,0.26,0.28,0.3,0.315,0.31,0.28,0.23,0.15],

  [0.14,0.2,0.22,0.24,0.27,0.3,0.32,0.31,0.28,0.22,0.15],
  [0.13,0.19,0.215,0.24,0.27,0.3,0.32,0.31,0.28,0.23,0.17],
  [0.13,0.19,0.22,0.245,0.275,0.3,0.33,0.325,0.29,0.24,0.17],
  [0.12,0.19,0.215,0.24,0.27,0.3,0.33,0.33,0.3,0.24,0.17],
  [0.11,0.17,0.205,0.24,0.28,0.32,0.345,0.34,0.3,0.25,0.18],
  [0.11,0.17,0.205,0.24,0.28,0.32,0.35,0.345,0.31,0.26,0.19],
  [0.1,0.16,0.2,0.24,0.28,0.32,0.35,0.345,0.31,0.26,0.19],
  [0.1,0.16,0.2,0.24,0.28,0.32,0.345,0.34,0.3,0.26,0.2],
  [0.09,0.15,0.19,0.23,0.28,0.32,0.35,0.34,0.31,0.27,0.2],
  [0.08,0.15,0.19,0.23,0.27,0.31,0.34,0.34,0.31,0.27,0.2],
  [0.08,0.14,0.18,0.22,0.26,0.3,0.33,0.335,0.3,0.26,0.21],
  [0.07,0.13,0.17,0.21,0.25,0.29,0.32,0.33,0.31,0.28,0.23],

  [0.06,0.12,0.16,0.2,0.26,0.31,0.325,0.32,0.3,0.28,0.23],
  [0.06,0.12,0.16,0.21,0.27,0.31,0.32,0.31,0.29,0.27,0.24],
  [0.05,0.11,0.15,0.2,0.26,0.3,0.315,0.31,0.29,0.27,0.24],
  [0.05,0.11,0.16,0.21,0.26,0.295,0.305,0.3,0.285,0.27,0.25],
  [0.04,0.1,0.15,0.2,0.25,0.29,0.305,0.3,0.29,0.28,0.26],
  [0.04,0.11,0.15,0.19,0.24,0.28,0.3,0.29,0.285,0.285,0.26],
  [0.03,0.1,0.14,0.18,0.23,0.27,0.295,0.29,0.285,0.285,0.27],
  [0.03,0.09,0.13,0.18,0.24,0.275,0.29,0.285,0.28,0.28,0.26],
  [0.03,0.09,0.13,0.17,0.23,0.27,0.28,0.275,0.27,0.275,0.265],
  [0.03,0.09,0.13,0.17,0.22,0.26,0.27,0.265,0.265,0.275,0.265],
  [0.03,0.08,0.12,0.16,0.21,0.25,0.265,0.26,0.255,0.265,0.26],
  [0.03,0.08,0.11,0.15,0.2,0.24,0.255,0.25,0.245,0.26,0.24],

  [0.03,0.07,0.11,0.14,0.18,0.22,0.24,0.24,0.235,0.25,0.245],
  [0.03,0.07,0.105,0.135,0.17,0.21,0.23,0.235,0.225,0.24,0.24],
  [0.03,0.07,0.1,0.13,0.165,0.205,0.22,0.21,0.21,0.225,0.22],
  [0.035,0.07,0.095,0.12,0.155,0.19,0.2,0.19,0.19,0.21,0.21],
  [0.045,0.075,0.095,0.12,0.15,0.175,0.18,0.175,0.17,0.19,0.2]
];

// page layout of the panel grid
const COL0 = 67.3, COLW = 136.2, PW = 110, ROW0 = 10.7, ROWH = 101.2, NCOL = 12;
const PADL = 46, PADT = 12, PADB = 12, PADR = 2;

Chart.defaults.font.family = "'Liberation Sans', Arial, sans-serif";

const panelDeco = {
  id: 'panelDeco',
  beforeDatasetsDraw(chart) {
    const { ctx, chartArea: a, scales: { y } } = chart;
    ctx.save();
    ctx.setLineDash([3, 3]);
    ctx.strokeStyle = '#555';
    ctx.lineWidth = 1;
    y.ticks.forEach(t => {
      if (t.value === 0) return;
      const py = Math.round(y.getPixelForValue(t.value)) + 0.5;
      ctx.beginPath();
      ctx.moveTo(a.left, py);
      ctx.lineTo(a.right, py);
      ctx.stroke();
    });
    ctx.restore();
  },
  beforeDatasetDraw(chart, args, opts) {
    if (args.index !== 1) return;
    const { ctx, scales: { x, y } } = chart;
    const err = opts.err;
    ctx.save();
    ctx.strokeStyle = '#555';
    ctx.lineWidth = 1;
    chart.data.datasets[1].data.forEach(p => {
      const px = Math.round(x.getPixelForValue(p.x)) + 0.5;
      const y1 = y.getPixelForValue(p.y - err), y2 = y.getPixelForValue(p.y + err);
      ctx.beginPath();
      ctx.moveTo(px, y1); ctx.lineTo(px, y2);
      ctx.moveTo(px - 2.5, y1); ctx.lineTo(px + 2.5, y1);
      ctx.moveTo(px - 2.5, y2); ctx.lineTo(px + 2.5, y2);
      ctx.stroke();
    });
    ctx.restore();
  },
  afterDraw(chart, args, opts) {
    const { ctx, chartArea: a, scales: { x, y } } = chart;
    ctx.save();
    ctx.strokeStyle = '#222';
    ctx.lineWidth = 1.3;
    ctx.strokeRect(a.left, a.top, a.right - a.left, a.bottom - a.top);
    // inward tick marks, ROOT style
    ctx.lineWidth = 1;
    const minor = opts.step / 5;
    for (let k = 0; k * minor <= y.max + 1e-9; k++) {
      const py = y.getPixelForValue(k * minor);
      const len = k % 5 === 0 ? 5 : 2.5;
      ctx.beginPath();
      ctx.moveTo(a.left, py); ctx.lineTo(a.left + len, py);
      ctx.moveTo(a.right, py); ctx.lineTo(a.right - len, py);
      ctx.stroke();
    }
    for (let k = -10; k <= 10; k++) {
      const px = x.getPixelForValue(k / 10);
      const len = k % 5 === 0 ? 5 : 2.5;
      ctx.beginPath();
      ctx.moveTo(px, a.bottom); ctx.lineTo(px, a.bottom - len);
      ctx.moveTo(px, a.top); ctx.lineTo(px, a.top + len);
      ctx.stroke();
    }
    ctx.fillStyle = '#2560b5';
    ctx.font = "19.5px 'Liberation Sans', Arial, sans-serif";
    ctx.textAlign = 'center';
    ctx.textBaseline = 'alphabetic';
    ctx.fillText(opts.label, (a.left + a.right) / 2, a.bottom - 3);
    ctx.restore();
  }
};

function makePanel(i) {
  const r = Math.floor(i / NCOL), c = i % NCOL;
  const top = Math.round(ROW0 + r * ROWH);
  const ph = Math.round(ROW0 + (r + 1) * ROWH) - top;
  const left = Math.round(COL0 + c * COLW);
  const cv = document.createElement('canvas');
  cv.width = PADL + PW + PADR;
  cv.height = PADT + ph + PADB;
  cv.style.left = (left - PADL) + 'px';
  cv.style.top = (top - PADT) + 'px';
  document.body.appendChild(cv);

  const step = yStep[i];
  new Chart(cv, {
    type: 'scatter',
    data: {
      datasets: [{
        type: 'line',
        data: curveCos.map((cx, j) => ({ x: cx, y: curves[i][j] })),
        borderColor: '#e8211f',
        borderWidth: 4,
        pointRadius: 0,
        showLine: true,
        cubicInterpolationMode: 'monotone',
        order: 0
      }, {
        data: cosBins.map((cx, j) => ({ x: cx, y: points[i][j] })),
        backgroundColor: '#000',
        borderWidth: 0,
        pointRadius: 2.2,
        order: 1
      }]
    },
    options: {
      responsive: false,
      animation: false,
      events: [],
      layout: { padding: { top: PADT, bottom: PADB, left: 0, right: PADR } },
      plugins: {
        legend: { display: false },
        tooltip: { enabled: false },
        panelDeco: { label: wLabels[i], step: step, err: rowErr[r] }
      },
      scales: {
        x: { type: 'linear', min: -1, max: 1, display: false },
        y: {
          min: 0,
          max: yMax[i],
          grid: { display: false },
          border: { display: false },
          afterFit(ax) { ax.width = PADL; },
          afterBuildTicks(ax) {
            const t = [];
            for (let k = 0; k * step <= yMax[i] + 1e-9; k++) t.push({ value: +(k * step).toFixed(3) });
            ax.ticks = t;
          },
          ticks: {
            padding: 2,
            color: '#111',
            font: { size: 18 },
            autoSkip: false,
            callback: v => String(+(+v).toFixed(2))
          }
        }
      }
    },
    plugins: [panelDeco]
  });
}

for (let i = 0; i < wLabels.length; i++) makePanel(i);
</script>
</body>
</html>
